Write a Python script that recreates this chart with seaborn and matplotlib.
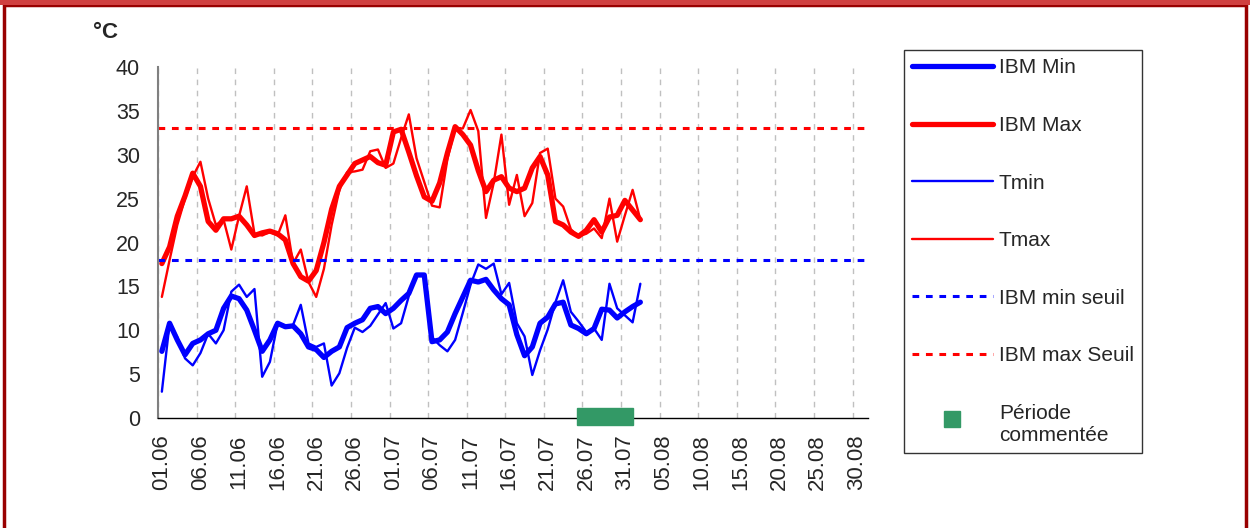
import numpy as np
import pandas as pd
import matplotlib.pyplot as plt
import matplotlib.patches as mpatches
from matplotlib.lines import Line2D
from matplotlib.legend_handler import HandlerLine2D
import seaborn as sns

# daily values, 01.06 -> 02.08
ibm_max = [17.6, 19.5, 23.0, 25.3, 27.9, 26.4, 22.4, 21.4, 22.7, 22.7,
           23.0, 22.0, 20.8, 21.1, 21.3, 21.0, 20.3, 17.6, 16.1, 15.6,
           16.8, 20.0, 23.8, 26.4, 27.7, 29.0, 29.4, 29.8, 29.1, 28.8,
           32.6, 32.9, 30.3, 27.6, 25.2, 24.7, 26.8, 30.2, 33.2, 32.3,
           31.1, 28.2, 25.8, 27.1, 27.5, 26.2, 25.8, 26.2, 28.5, 29.8,
           27.7, 22.4, 22.0, 21.2, 20.7, 21.4, 22.6, 21.2, 22.9, 23.1,
           24.8, 23.7, 22.6]
tmax = [13.8, 18.0, 22.0, 25.0, 27.5, 29.2, 25.0, 22.0, 22.6, 19.2,
        23.0, 26.4, 21.0, 20.8, 21.2, 20.8, 23.1, 17.6, 19.2, 15.5,
        13.8, 17.0, 22.0, 26.0, 28.0, 28.1, 28.3, 30.4, 30.6, 28.5,
        29.0, 31.9, 34.6, 29.6, 26.9, 24.2, 24.0, 29.5, 33.0, 33.0,
        35.1, 32.7, 22.8, 26.8, 32.3, 24.3, 27.7, 23.0, 24.5, 30.2,
        30.7, 25.0, 24.1, 21.5, 20.7, 21.0, 21.6, 20.5, 25.0, 20.1,
        23.1, 26.0, 22.6]
ibm_min = [7.6, 10.8, 8.9, 7.2, 8.5, 8.9, 9.6, 10.0, 12.5, 13.9,
           13.6, 12.3, 10.0, 7.6, 8.9, 10.8, 10.4, 10.5, 9.6, 8.1,
           7.8, 6.9, 7.6, 8.1, 10.3, 10.8, 11.2, 12.5, 12.7, 11.9,
           12.5, 13.4, 14.2, 16.3, 16.3, 8.7, 8.9, 9.8, 11.9, 13.8,
           15.7, 15.5, 15.8, 14.6, 13.6, 12.9, 9.5, 7.1, 8.1, 10.8,
           11.5, 13.0, 13.2, 10.6, 10.2, 9.6, 10.2, 12.4, 12.3, 11.4,
           12.1, 12.7, 13.2]
tmin = [3.0, 10.8, 9.2, 6.8, 6.0, 7.4, 9.6, 8.5, 10.0, 14.4,
        15.2, 13.8, 14.7, 4.7, 6.4, 10.8, 10.4, 10.6, 12.9, 8.5,
        8.1, 8.5, 3.7, 5.1, 8.0, 10.3, 9.8, 10.5, 11.8, 13.1,
        10.2, 10.8, 13.9, 16.3, 16.3, 9.2, 8.3, 7.6, 8.9, 12.0,
        15.2, 17.5, 17.0, 17.6, 14.1, 15.4, 10.8, 9.3, 4.9, 7.7,
        10.1, 13.2, 15.7, 12.1, 11.0, 9.8, 10.2, 8.9, 15.3, 12.5,
        11.7, 10.9, 15.3]
seuil_min = 18
seuil_max = 33
periode = (54.3, 61.6)   # 25.07 -> 01.08
tick_labels = ['01.06', '06.06', '11.06', '16.06', '21.06', '26.06', '01.07',
               '06.07', '11.07', '16.07', '21.07', '26.07', '31.07', '05.08',
               '10.08', '15.08', '20.08', '25.08', '30.08']
n_days = 92

df = pd.DataFrame({'jour': np.arange(len(tmax)) + 0.5,
                   'IBM Min': ibm_min, 'IBM Max': ibm_max,
                   'Tmin': tmin, 'Tmax': tmax})

sns.set_style('white')
plt.rcParams['font.family'] = ['Liberation Sans', 'DejaVu Sans']

fig = plt.figure(figsize=(12.5, 5.28), dpi=100)
ax = fig.add_axes([0.1264, 0.2083, 0.568, 0.6648])

BLUE, RED, GREEN = '#0000ff', '#ff0000', '#339966'

sns.lineplot(data=df, x='jour', y='Tmin', ax=ax, color=BLUE, linewidth=1.7)
sns.lineplot(data=df, x='jour', y='Tmax', ax=ax, color=RED, linewidth=1.7)
sns.lineplot(data=df, x='jour', y='IBM Min', ax=ax, color=BLUE, linewidth=3.8,
             solid_capstyle='round')
sns.lineplot(data=df, x='jour', y='IBM Max', ax=ax, color=RED, linewidth=3.8,
             solid_capstyle='round')

ax.axhline(seuil_min, color=BLUE, lw=2.2, ls=(0, (2.2, 2.2)))
ax.axhline(seuil_max, color=RED, lw=2.2, ls=(0, (2.2, 2.2)))

ax.add_patch(mpatches.Rectangle((periode[0], -0.85), periode[1] - periode[0], 1.95,
                                color=GREEN, clip_on=False, zorder=5))

ax.set_xlim(0, n_days)
ax.set_ylim(0, 40)
ax.set_yticks(range(0, 41, 5))
ax.set_xticks(range(0, 91, 5))
ax.set_xticklabels([])
ax.set_xticks(np.arange(0, 91, 5) + 0.5, minor=True)
ax.set_xticklabels(tick_labels, minor=True, rotation=90, fontsize=16)
ax.tick_params(axis='x', which='minor', length=0, pad=12)
ax.tick_params(axis='x', which='major', length=5, direction='out', color='black')
ax.tick_params(axis='y', length=5, direction='out', color='#808080', labelsize=15.5, pad=8)
ax.set_xlabel('')
ax.set_ylabel('')

ax.xaxis.grid(True, which='major', color='#c0c0c0', linestyle=(0, (4, 4)), linewidth=1)
ax.yaxis.grid(False)
for s in ['top', 'right']:
    ax.spines[s].set_visible(False)
ax.spines['left'].set_color('#808080')
ax.spines['left'].set_linewidth(1.5)
ax.spines['bottom'].set_color('black')
ax.spines['bottom'].set_linewidth(1)

fig.text(106 / 1250, 1 - 33 / 528, '°C', fontsize=16, fontweight='bold',
         ha='center', va='center')


class FirstLineHandler(HandlerLine2D):
    # keep the square level with the first line of a two-line label
    def create_artists(self, legend, orig_handle, xdescent, ydescent,
                       width, height, fontsize, trans):
        return super().create_artists(legend, orig_handle, xdescent, ydescent - 8,
                                      width, height, fontsize, trans)


handles = [
    Line2D([], [], color=BLUE, lw=3.8, solid_capstyle='round'),
    Line2D([], [], color=RED, lw=3.8, solid_capstyle='round'),
    Line2D([], [], color=BLUE, lw=1.7),
    Line2D([], [], color=RED, lw=1.7),
    Line2D([], [], color=BLUE, lw=2.2, ls=(0, (2.2, 2.2))),
    Line2D([], [], color=RED, lw=2.2, ls=(0, (2.2, 2.2))),
    Line2D([], [], color=GREEN, marker='s', ls='none', markersize=11),
]
labels = ['IBM Min', 'IBM Max', 'Tmin', 'Tmax', 'IBM min seuil', 'IBM max Seuil',
          'Période\ncommentée']
leg = fig.legend(handles, labels, loc='upper left', bbox_to_anchor=(0.7232, 0.905),
                 frameon=True, fancybox=False, edgecolor='black', fontsize=15,
                 handlelength=3.85, handletextpad=0.3, labelspacing=1.85,
                 borderpad=0.4, borderaxespad=0,
                 handler_map={handles[-1]: FirstLineHandler()})
leg.get_frame().set_linewidth(1)

# page frame
fig.patches.append(mpatches.Rectangle((0.003, -0.01), 0.994, 1.0, transform=fig.transFigure,
                                      fill=False, edgecolor='#990000', linewidth=2.5))
fig.patches.append(mpatches.Rectangle((0, 0.99), 1, 0.01, transform=fig.transFigure,
                                      facecolor='#d04040', edgecolor='none'))

fig.savefig('out.png', dpi=100)
